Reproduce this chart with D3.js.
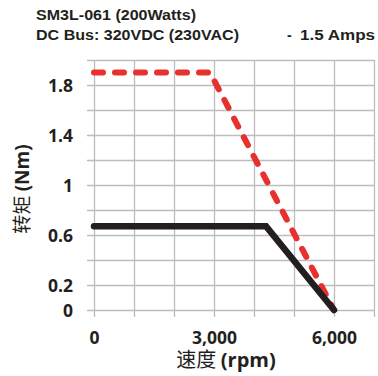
<!DOCTYPE html>
<html>
<head>
<meta charset="utf-8">
<script src="https://cdn.jsdelivr.net/npm/d3@7"></script>
<style>
  body { margin: 0; background: #fff; }
  .tick-label { font-family: "Open Sans", sans-serif; font-weight: bold; font-size: 17.5px; fill: #231f20; }
  .title { font-family: "Liberation Sans", Arial, sans-serif; font-weight: bold; font-size: 14px; fill: #231f20; }
</style>
</head>
<body>
<script>
// data
var redSpeed = [0, 2900, 6000],
    redTorque = [1.9, 1.9, 0],
    blackSpeed = [0, 4300, 6000],
    blackTorque = [0.67, 0.67, 0];

var gridX = [0, 1000, 2000, 3000, 4000, 5000, 6000, 7000],
    gridY = [0, 0.2, 0.4, 0.6, 0.8, 1.0, 1.2, 1.4, 1.6, 1.8, 2.0];
var xTickVals = [0, 3000, 6000],
    xTickLabels = ["0", "3,000", "6,000"];
var yTickVals = [0, 0.2, 0.6, 1, 1.4, 1.8],
    yTickLabels = ["0", "0.2", "0.6", "1", "1.4", "1.8"];

var margin = {top: 60, right: 4, bottom: 66, left: 94},
    outerWidth = 378,
    outerHeight = 376,
    innerWidth = outerWidth - margin.left - margin.right,
    innerHeight = outerHeight - margin.top - margin.bottom;

var svg = d3.select("body").append("svg")
    .attr("width", outerWidth)
    .attr("height", outerHeight);

// titles
svg.append("text").attr("class", "title")
    .attr("x", 36).attr("y", 19.5)
    .attr("textLength", 160).attr("lengthAdjust", "spacingAndGlyphs")
    .text("SM3L-061 (200Watts)");
svg.append("text").attr("class", "title")
    .attr("x", 36).attr("y", 39.5)
    .attr("textLength", 203).attr("lengthAdjust", "spacingAndGlyphs")
    .text("DC Bus: 320VDC (230VAC)");
svg.append("text").attr("class", "title")
    .attr("x", 287).attr("y", 39.5)
    .text("-");
svg.append("text").attr("class", "title")
    .attr("x", 300).attr("y", 39.5)
    .attr("textLength", 75).attr("lengthAdjust", "spacingAndGlyphs")
    .text("1.5 Amps");

var plot = svg.append("g")
    .attr("transform", "translate(" + margin.left + "," + margin.top + ")");

var xScale = d3.scaleLinear().domain([0, 7000]).range([0, innerWidth]);
var yScale = d3.scaleLinear().domain([0, 2.0]).range([innerHeight, 0]);

var gridColor = "#bdbdbd";

// horizontal grid + left ticks
var gy = plot.append("g")
    .attr("transform", "translate(-7,0)")
    .call(d3.axisLeft(yScale).tickValues(gridY).tickSize(-(innerWidth + 7)).tickFormat(""));
gy.select(".domain").remove();
gy.selectAll("line").attr("stroke", gridColor).attr("stroke-width", 1.3);

// vertical grid + bottom ticks
var gx = plot.append("g")
    .attr("transform", "translate(0," + (innerHeight + 7) + ")")
    .call(d3.axisBottom(xScale).tickValues(gridX).tickSize(-(innerHeight + 7)).tickFormat(""));
gx.select(".domain").remove();
gx.selectAll("line").attr("stroke", gridColor).attr("stroke-width", 1.3);

// tick labels
var yl = plot.append("g")
    .call(d3.axisLeft(yScale).tickValues(yTickVals).tickSize(0).tickPadding(21)
        .tickFormat(function(d, i) { return yTickLabels[i]; }));
yl.select(".domain").remove();
yl.selectAll("text").attr("class", "tick-label").attr("dy", "0.36em");

var xl = plot.append("g")
    .attr("transform", "translate(0," + innerHeight + ")")
    .call(d3.axisBottom(xScale).tickValues(xTickVals).tickSize(0).tickPadding(22)
        .tickFormat(function(d, i) { return xTickLabels[i]; }));
xl.select(".domain").remove();
xl.selectAll("text").attr("class", "tick-label").attr("dy", "0.71em");

// curves
var line = d3.line()
    .x(function(d) { return xScale(d[0]); })
    .y(function(d) { return yScale(d[1]); });

plot.append("path")
    .datum(d3.zip(redSpeed, redTorque))
    .attr("fill", "none")
    .attr("stroke", "#e8302e")
    .attr("stroke-width", 6)
    .attr("stroke-linecap", "round")
    .attr("stroke-dasharray", "9 12")
    .attr("d", line);

plot.append("path")
    .datum(d3.zip(blackSpeed, blackTorque))
    .attr("fill", "none")
    .attr("stroke", "#231f20")
    .attr("stroke-width", 6.5)
    .attr("stroke-linecap", "round")
    .attr("d", line);

// axis titles
svg.append("text")
    .attr("x", 226).attr("y", 367)
    .attr("text-anchor", "middle")
    .attr("fill", "#231f20")
    .style("font-size", "20px")
    .call(function(t) {
        t.append("tspan").style("font-family", "'Noto Sans CJK SC'").text("速度 ");
        t.append("tspan").style("font-family", "'Open Sans'").style("font-weight", "bold").text("(rpm)");
    });

svg.append("text")
    .attr("transform", "translate(29,189) rotate(-90)")
    .attr("text-anchor", "middle")
    .attr("fill", "#231f20")
    .style("font-size", "19px")
    .call(function(t) {
        t.append("tspan").style("font-family", "'Noto Sans CJK SC'").text("转矩 ");
        t.append("tspan").style("font-family", "'Open Sans'").style("font-weight", "bold").text("(Nm)");
    });
</script>
</body>
</html>
